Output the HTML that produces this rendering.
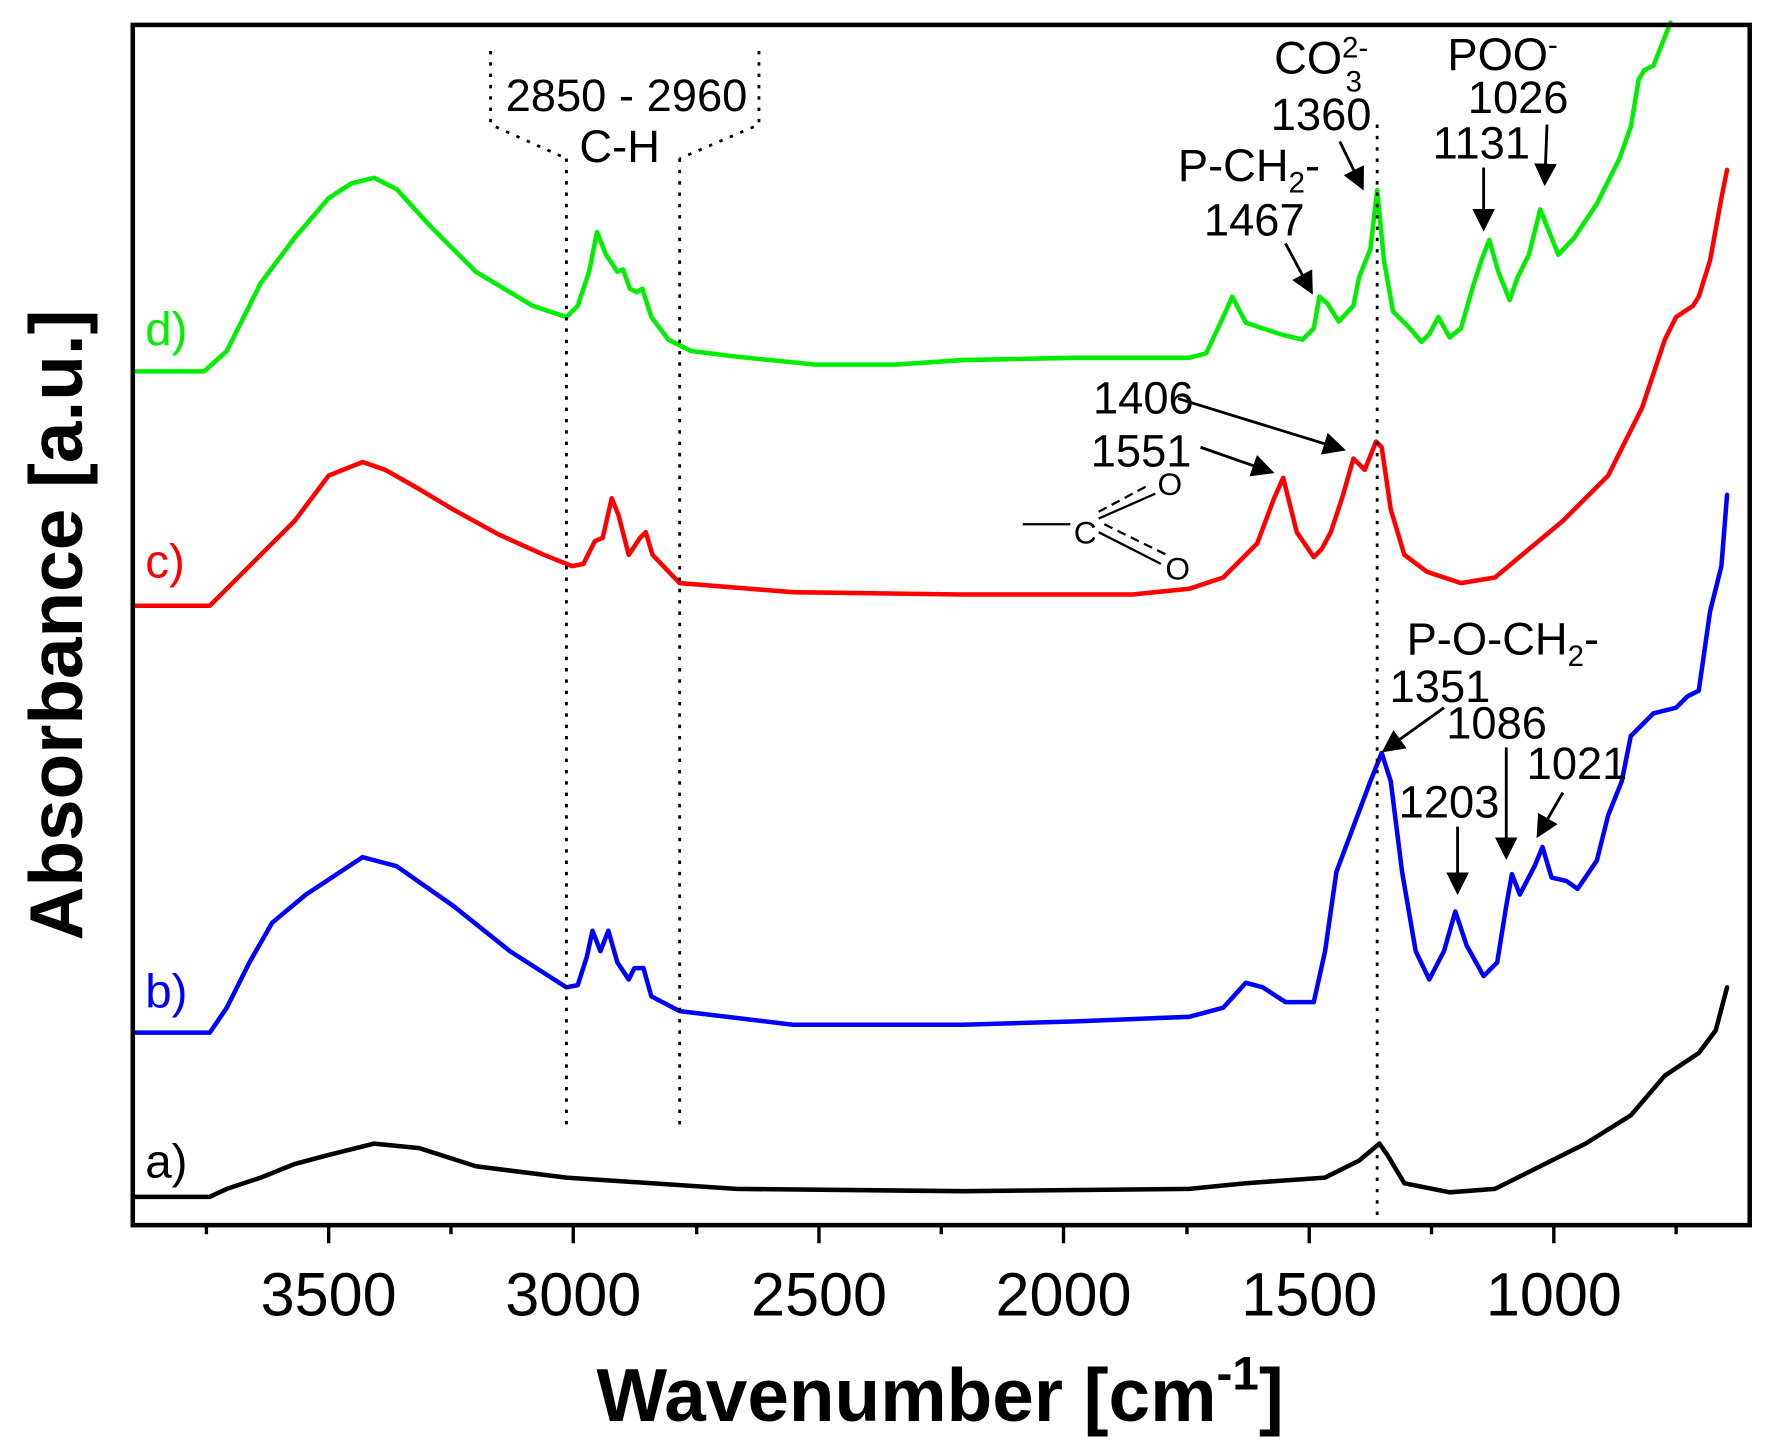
<!DOCTYPE html>
<html><head><style>html,body{margin:0;padding:0;background:#fff}svg{display:block}</style></head>
<body>
<svg width="1767" height="1455" viewBox="0 0 1560 1285" xmlns="http://www.w3.org/2000/svg" font-family="Liberation Sans, Arial, sans-serif">
<rect width="1560" height="1285" fill="#fff"/>
<g fill="none" stroke-width="4" stroke-linejoin="round" stroke-linecap="round">
<polyline stroke="#00ee00" points="117,328 180,328 200,310 230,250 260,210 290,175 310,162 330,157 350,167 380,200 420,240 470,270 500,280 510,270 520,240 527,205 535,225 545,240 550,238 556,255 562,258 567,255 575,280 590,300 610,310 650,315 720,322 790,322 850,318 950,316 1050,316 1065,312 1080,280 1088,262 1100,285 1130,295 1150,300 1160,290 1165,262 1172,268 1182,284 1195,270 1200,245 1210,220 1216,168 1222,230 1230,275 1245,290 1255,302 1262,295 1270,280 1280,298 1290,290 1300,255 1308,230 1315,212 1323,240 1333,265 1340,245 1350,225 1360,185 1366,200 1376,225 1390,210 1410,180 1430,140 1440,112 1447,70 1452,62 1460,58 1475,20"/>
<polyline stroke="#ff0000" points="117,535 185,535 200,520 230,490 260,460 290,420 320,408 340,415 370,432 400,450 440,472 480,490 505,500 515,498 525,478 532,475 540,440 546,455 555,490 565,475 570,470 576,490 600,515 700,523 850,525 1000,525 1050,520 1080,510 1110,480 1125,440 1133,422 1145,470 1160,492 1167,485 1175,470 1185,440 1195,405 1205,415 1215,390 1220,395 1228,450 1240,490 1260,505 1290,515 1320,510 1350,485 1380,460 1420,420 1450,360 1470,300 1480,280 1495,270 1500,262 1510,230 1520,175 1525,150"/>
<polyline stroke="#0000ff" points="117,912 185,912 200,890 220,850 240,815 270,790 320,757 350,765 400,800 450,840 500,872 510,870 518,845 523,822 530,840 537,822 545,850 555,865 560,855 568,855 575,880 600,893 700,905 850,905 950,902 1050,898 1080,890 1100,868 1115,872 1135,885 1160,885 1170,840 1180,770 1195,730 1210,690 1220,665 1228,690 1238,770 1250,840 1262,865 1275,840 1285,805 1295,835 1310,862 1322,850 1330,800 1335,772 1342,790 1355,765 1362,748 1370,775 1383,778 1393,785 1410,760 1420,720 1432,690 1440,650 1460,630 1480,625 1490,615 1500,610 1510,540 1520,500 1525,437"/>
<polyline stroke="#000" points="117,1057 185,1057 200,1050 230,1040 260,1028 290,1020 330,1010 370,1014 420,1030 500,1040 650,1050 850,1052 1050,1050 1100,1045 1170,1040 1200,1025 1218,1010 1225,1020 1240,1045 1280,1053 1320,1050 1360,1030 1400,1010 1440,985 1470,950 1500,930 1515,910 1525,872"/>
</g>
<g stroke="#000" stroke-width="2.5" stroke-dasharray="3,7" fill="none">
<line x1="500" y1="140" x2="500" y2="998"/>
<line x1="600" y1="140" x2="600" y2="998"/>
<line x1="1216" y1="110" x2="1216" y2="1078"/>
<polyline points="433,45 433,110 500,140"/>
<polyline points="670,45 670,110 600,140"/>
</g>
<rect x="117" y="22" width="1428" height="1060" fill="none" stroke="#000" stroke-width="4"/>
<g stroke="#000" stroke-width="3">
<line x1="290" y1="1082" x2="290" y2="1098"/><line x1="506" y1="1082" x2="506" y2="1098"/><line x1="723" y1="1082" x2="723" y2="1098"/><line x1="939" y1="1082" x2="939" y2="1098"/><line x1="1156" y1="1082" x2="1156" y2="1098"/><line x1="1372" y1="1082" x2="1372" y2="1098"/>
<line x1="182" y1="1082" x2="182" y2="1090"/><line x1="398" y1="1082" x2="398" y2="1090"/><line x1="615" y1="1082" x2="615" y2="1090"/><line x1="831" y1="1082" x2="831" y2="1090"/><line x1="1048" y1="1082" x2="1048" y2="1090"/><line x1="1264" y1="1082" x2="1264" y2="1090"/><line x1="1480" y1="1082" x2="1480" y2="1090"/>
</g>
<g font-size="54" text-anchor="middle" fill="#000">
<text x="290" y="1162">3500</text><text x="506" y="1162">3000</text><text x="723" y="1162">2500</text><text x="939" y="1162">2000</text><text x="1156" y="1162">1500</text><text x="1372" y="1162">1000</text>
</g>
<text x="830" y="1255" font-size="66" font-weight="bold" text-anchor="middle">Wavenumber [cm<tspan font-size="42" dy="-28">-1</tspan><tspan dy="28">]</tspan></text>
<text transform="translate(72,552) rotate(-90)" font-size="66" font-weight="bold" text-anchor="middle">Absorbance [a.u.]</text>
<g font-size="42">
<text x="128" y="1040" fill="#000">a)</text>
<text x="128" y="890" fill="#0000ff">b)</text>
<text x="128" y="510" fill="#ff0000">c)</text>
<text x="128" y="305" fill="#00ee00">d)</text>
</g>
<g font-size="40" fill="#000">
<text x="553" y="98" text-anchor="middle">2850 - 2960</text>
<text x="547" y="143" text-anchor="middle">C-H</text>
<text x="1125" y="65">CO<tspan font-size="26" dy="-14">2-</tspan><tspan font-size="26" dx="-20" dy="30">3</tspan></text>
<text x="1122" y="115">1360</text>
<text x="1278" y="62">POO<tspan font-size="26" dy="-14">-</tspan></text>
<text x="1296" y="100">1026</text>
<text x="1265" y="140">1131</text>
<text x="1040" y="160">P-CH<tspan font-size="26" dy="10">2</tspan><tspan dy="-10">-</tspan></text>
<text x="1063" y="208">1467</text>
<text x="965" y="365">1406</text>
<text x="963" y="412">1551</text>
<text x="1242" y="578">P-O-CH<tspan font-size="26" dy="10">2</tspan><tspan dy="-10">-</tspan></text>
<text x="1227" y="620">1351</text>
<text x="1277" y="652">1086</text>
<text x="1235" y="722">1203</text>
<text x="1348" y="688">1021</text>
</g>
<g font-size="28" fill="#000">
<text x="948" y="480">C</text>
<text x="1022" y="437">O</text>
<text x="1029" y="512">O</text>
</g>
<g stroke="#000" stroke-width="2" fill="none">
<line x1="903" y1="463" x2="945" y2="463"/>
<line x1="970" y1="452" x2="1015" y2="428" stroke-dasharray="8,5"/>
<line x1="970" y1="458" x2="1020" y2="436"/>
<line x1="970" y1="470" x2="1025" y2="498"/>
<line x1="975" y1="463" x2="1030" y2="490" stroke-dasharray="8,5"/>
</g>
<defs><marker id="ah" markerWidth="8" markerHeight="8" refX="7" refY="4" orient="auto" markerUnits="strokeWidth"><path d="M0,0 L8,4 L0,8 z" fill="#000"/></marker></defs>
<g stroke="#000" stroke-width="2.5" marker-end="url(#ah)">
<line x1="1183" y1="125" x2="1203" y2="166"/>
<line x1="1366" y1="110" x2="1364" y2="162"/>
<line x1="1310" y1="148" x2="1310" y2="202"/>
<line x1="1135" y1="215" x2="1158" y2="258"/>
<line x1="1040" y1="352" x2="1186" y2="397"/>
<line x1="1060" y1="395" x2="1123" y2="417"/>
<line x1="1275" y1="625" x2="1222" y2="663"/>
<line x1="1330" y1="660" x2="1330" y2="757"/>
<line x1="1287" y1="730" x2="1287" y2="788"/>
<line x1="1380" y1="700" x2="1358" y2="738"/>
</g>
</svg>
</body></html>
